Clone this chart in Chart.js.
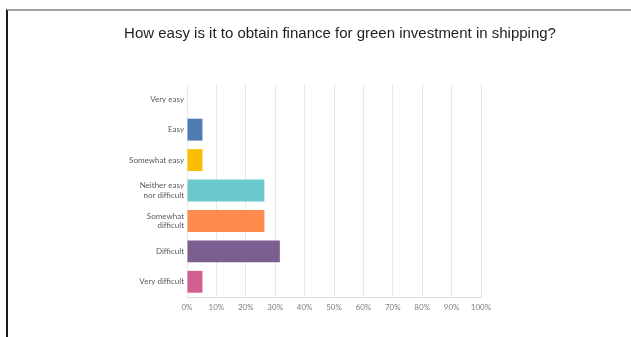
<!DOCTYPE html>
<html>
<head>
<meta charset="utf-8">
<script src="https://cdn.jsdelivr.net/npm/chart.js@4/dist/chart.umd.min.js"></script>
<style>
  html, body { margin: 0; padding: 0; background: #fff; }
  body { width: 631px; height: 337px; position: relative; overflow: hidden; }
  .frame {
    position: absolute; left: 6px; top: 9px; width: 625px; height: 328px;
    border-top: 2px solid #a3a3a3; border-left: 2px solid #1a1a1a; box-sizing: border-box;
  }
  #chart { position: absolute; left: 0; top: 0; }
</style>
</head>
<body>
<div class="frame"></div>
<canvas id="chart" width="631" height="337"></canvas>
<script>
const answers = [
  "Very easy",
  "Easy",
  "Somewhat easy",
  ["Neither easy", "nor difficult"],
  ["Somewhat", "difficult"],
  "Difficult",
  "Very difficult",
];
// share of respondents, percent (19 responses)
const shares = [0, 5.26, 5.26, 26.32, 26.32, 31.58, 5.26];
const barColors = ["#a0d164", "#507cb6", "#f9be00", "#6bc8cd", "#ff8b4f", "#7d5e90", "#d25f90"];
const pctTicks = [0, 10, 20, 30, 40, 50, 60, 70, 80, 90, 100];
const question = "How easy is it to obtain finance for green investment in shipping?";

Chart.defaults.animation = false;
Chart.defaults.plugins.legend.display = false;
Chart.defaults.plugins.tooltip.enabled = false;

const labelFont = { family: "Lato, 'Open Sans', sans-serif", size: 8 };

// the question sits centred over the page, not over the plot box
const questionTitle = {
  id: "questionTitle",
  afterDraw(chart) {
    const ctx = chart.ctx;
    ctx.save();
    ctx.font = "15px 'Liberation Sans', Arial, sans-serif";
    ctx.fillStyle = "#1e1e1e";
    ctx.textAlign = "center";
    ctx.textBaseline = "middle";
    ctx.fillText(question, 340, 34);
    ctx.restore();
  },
};

new Chart(document.getElementById("chart").getContext("2d"), {
  type: "bar",
  data: {
    labels: answers,
    datasets: [{
      data: shares,
      backgroundColor: barColors,
      borderWidth: 0,
      barPercentage: 0.72,
      categoryPercentage: 1,
    }],
  },
  options: {
    indexAxis: "y",
    responsive: false,
    layout: { padding: { left: 0, right: 150, top: 84, bottom: 0 } },
    scales: {
      x: {
        min: 0,
        max: 100,
        afterBuildTicks: (s) => { s.ticks = pctTicks.map((v) => ({ value: v })); },
        afterFit: (s) => { s.height = 40; },
        grid: { color: "#e8e8e8", drawTicks: false },
        border: { color: "#dcdcdc" },
        ticks: {
          padding: 6,
          color: "#7a7f87",
          font: labelFont,
          callback: (v) => v + "%",
        },
      },
      y: {
        afterFit: (s) => { s.width = 187; },
        grid: { display: false, drawTicks: false },
        border: { color: "#e8e8e8" },
        ticks: { padding: 3, color: "#555a60", font: labelFont },
      },
    },
  },
  plugins: [questionTitle],
});
</script>
</body>
</html>
